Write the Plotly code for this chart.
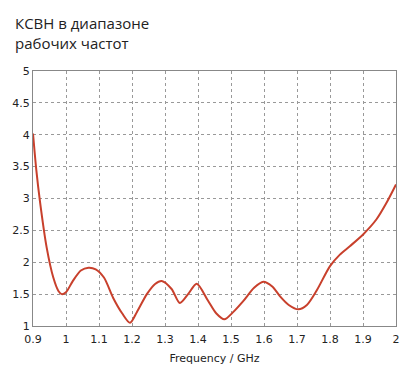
import plotly.graph_objects as go

freq = [0.9, 0.91, 0.921, 0.9415, 0.9615, 0.977, 0.987, 1.0, 1.02, 1.045, 1.068, 1.09, 1.115,
        1.143, 1.17, 1.194, 1.215, 1.245, 1.27, 1.29, 1.32, 1.345, 1.37, 1.396, 1.43, 1.455,
        1.48, 1.505, 1.537, 1.57, 1.598, 1.625, 1.648, 1.675, 1.704, 1.73, 1.76, 1.8,
        1.83, 1.861, 1.901, 1.941, 1.97, 2.0]
vswr = [4.02, 3.45, 2.96, 2.23, 1.76, 1.55, 1.50, 1.53, 1.70, 1.87, 1.915, 1.89, 1.76,
        1.44, 1.20, 1.05, 1.22, 1.50, 1.66, 1.706, 1.58, 1.36, 1.50, 1.664, 1.40, 1.20,
        1.105, 1.21, 1.39, 1.60, 1.695, 1.62, 1.47, 1.33, 1.262, 1.33, 1.56, 1.94,
        2.12, 2.255, 2.44, 2.674, 2.92, 3.22]

x_ticks = [0.9, 1, 1.1, 1.2, 1.3, 1.4, 1.5, 1.6, 1.7, 1.8, 1.9, 2]
x_labels = ["0.9", "1", "1.1", "1.2", "1.3", "1.4", "1.5", "1.6", "1.7", "1.8", "1.9", "2"]
y_ticks = [1, 1.5, 2, 2.5, 3, 3.5, 4, 4.5, 5]
y_labels = ["1", "1.5", "2", "2.5", "3", "3.5", "4", "4.5", "5"]

fig = go.Figure()
fig.add_trace(go.Scatter(x=freq, y=vswr, mode="lines",
                         line=dict(color="#c8402c", width=2, shape="spline", smoothing=0.8),
                         hoverinfo="skip", showlegend=False))

axis_font = dict(family="DejaVu Sans, Verdana, sans-serif", size=11, color="#222")
fig.update_xaxes(range=[0.9, 2], tickvals=x_ticks, ticktext=x_labels, tickfont=axis_font,
                 showgrid=True, gridcolor="#999", griddash="dot", gridwidth=1,
                 showline=True, linecolor="#888", linewidth=1, mirror=True,
                 zeroline=False, ticks="", ticklen=0, ticklabelstandoff=3,
                 title=dict(text="Frequency / GHz", font=dict(family="DejaVu Sans, Verdana, sans-serif", size=11, color="#222"), standoff=9))
fig.update_yaxes(range=[1, 5], tickvals=y_ticks, ticktext=y_labels, tickfont=axis_font,
                 showgrid=True, gridcolor="#999", griddash="dot", gridwidth=1,
                 showline=True, linecolor="#888", linewidth=1, mirror=True,
                 zeroline=False, ticks="", ticklen=0)

fig.add_annotation(text="КСВН в диапазоне<br>рабочих частот", xref="paper", yref="paper",
                   x=0, y=1, xanchor="left", yanchor="bottom", xshift=-20, yshift=16,
                   showarrow=False, align="left",
                   font=dict(family="Open Sans, Noto Sans, sans-serif", size=15, color="#222"))

fig.update_layout(width=408, height=372, margin=dict(l=33, r=8, t=71, b=46),
                  plot_bgcolor="white", paper_bgcolor="white")

fig.write_html("out.html")
